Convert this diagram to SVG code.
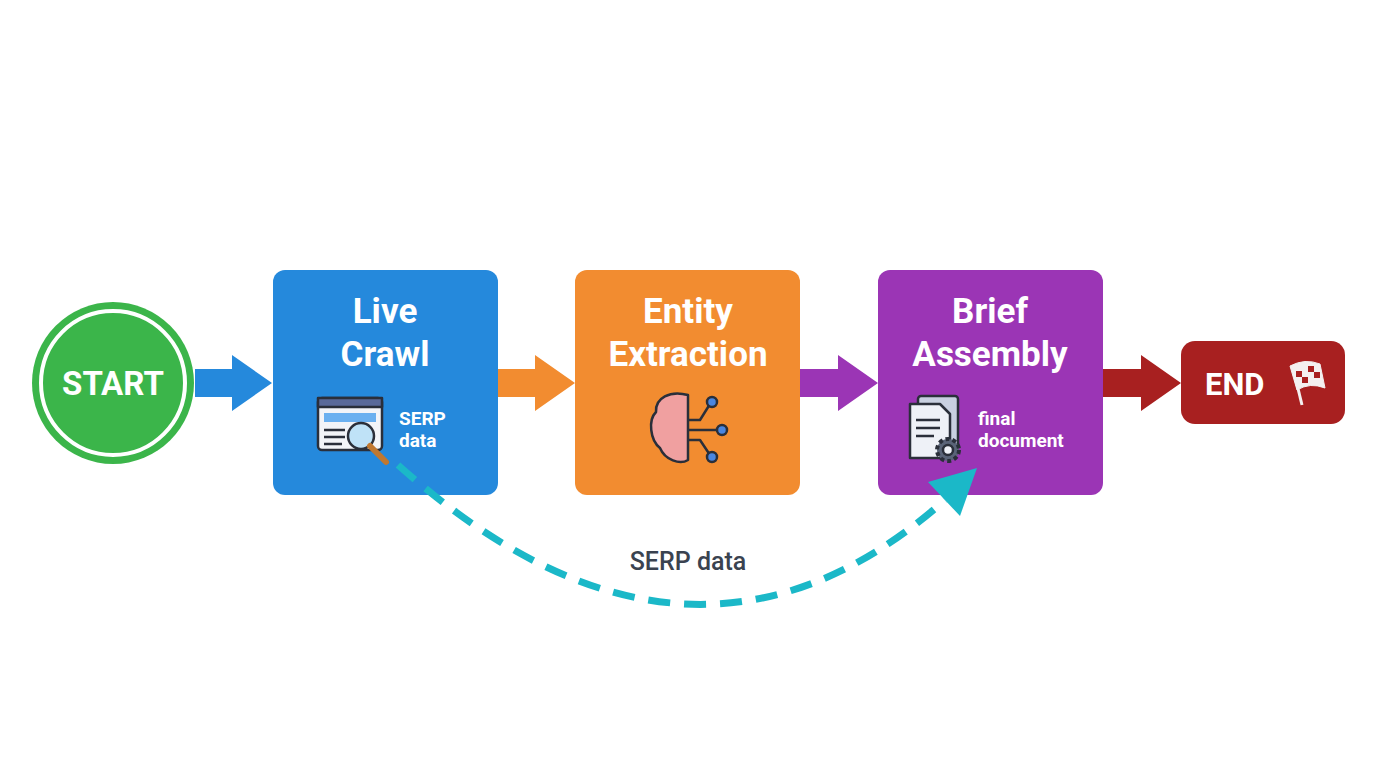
<svg xmlns="http://www.w3.org/2000/svg" width="1376" height="768" viewBox="0 0 1376 768">
<style>
.t{font-family:Roboto,"Liberation Sans",sans-serif;font-weight:bold;fill:#fff;text-anchor:middle}
.s{font-family:Roboto,"Liberation Sans",sans-serif;font-weight:bold;fill:#fff}
.ic{stroke:#2a2f3a;stroke-width:2.5;stroke-linejoin:round}
</style>
<rect width="1376" height="768" fill="#fff"/>
<g id="start">
<circle cx="113" cy="383" r="81" fill="#3bb54a"/>
<circle cx="113" cy="383" r="72" fill="none" stroke="#fff" stroke-width="4"/>
<text class="t" x="113" y="395" font-size="33">START</text>
</g>
<g id="live-crawl">
<rect x="273" y="270" width="225" height="225" rx="12" fill="#2589dc"/>
<text class="t" x="385" y="323" font-size="35">Live</text>
<text class="t" x="385" y="366" font-size="35">Crawl</text>
<rect class="ic" x="318" y="398" width="64" height="52" rx="4" fill="#f2f4f8"/>
<rect class="ic" x="318" y="398" width="64" height="9" fill="#5a6a9a"/>
<rect x="324" y="413" width="52" height="9" fill="#6ab0f0"/>
<path class="ic" d="M324,430 H345 M324,437 H345 M324,444 H342" fill="none"/>
<circle class="ic" cx="361" cy="436" r="13" fill="#bfe2f7"/>
<path d="M370,446 L386,462" stroke="#c07830" stroke-width="6" stroke-linecap="round"/>
<text class="s" x="399" y="425" font-size="19">SERP</text>
<text class="s" x="399" y="447" font-size="19">data</text>
</g>
<g id="entity-extraction">
<rect x="575" y="270" width="225" height="225" rx="12" fill="#f28c30"/>
<text class="t" x="688" y="323" font-size="35">Entity</text>
<text class="t" x="688" y="366" font-size="35">Extraction</text>
<path class="ic" d="M688,395 C670,390 655,398 656,412 C648,420 650,440 660,448 C665,460 680,465 688,460 z" fill="#f0a0a0"/>
<path class="ic" d="M688,420 H700 L710,404 M688,430 H718 M688,440 H700 L710,455" fill="none" stroke-width="2"/>
<circle cx="712" cy="402" r="5" fill="#4a86e0" class="ic" stroke-width="1.5"/>
<circle cx="722" cy="430" r="5" fill="#4a86e0" class="ic" stroke-width="1.5"/>
<circle cx="712" cy="457" r="5" fill="#4a86e0" class="ic" stroke-width="1.5"/>
</g>
<g id="brief-assembly">
<rect x="878" y="270" width="225" height="225" rx="12" fill="#9b35b5"/>
<text class="t" x="990" y="323" font-size="35">Brief</text>
<text class="t" x="990" y="366" font-size="35">Assembly</text>
<rect class="ic" x="918" y="396" width="40" height="52" rx="3" fill="#c8d0e0"/>
<path class="ic" d="M910,404 H940 L950,414 V458 H910 z" fill="#eef1f7"/>
<path class="ic" d="M916,420 H940 M916,428 H940 M916,436 H934" fill="none" stroke-width="2"/>
<circle cx="948" cy="450" r="11" fill="#5a6478" stroke="#2a2f3a" stroke-width="4" stroke-dasharray="4 3"/>
<circle cx="948" cy="450" r="5" fill="#eef1f7" class="ic" stroke-width="2"/>
<text class="s" x="978" y="425" font-size="19" font-weight="500">final</text>
<text class="s" x="978" y="447" font-size="19" font-weight="500">document</text>
</g>
<g id="end">
<rect x="1181" y="341" width="164" height="83" rx="14" fill="#a82020"/>
<text class="s" x="1205" y="395" font-size="31">END</text>
<path d="M1293,368 L1302,405" stroke="#f4f0f0" stroke-width="3"/>
<path d="M1290,366 Q1305,358 1320,364 L1325,388 Q1310,382 1297,390 z" fill="#f4f0f0" stroke="#f4f0f0"/>
<path d="M1296,371 h6v6h-6z M1308,366 h6v6h-6z M1302,377 h6v6h-6z M1314,372 h6v6h-6z" fill="#a82020"/>
</g>
<g id="connectors">
<path d="M195,369 H232 V355 L272,383 L232,411 V397 H195 z" fill="#2589dc"/>
<path d="M498,369 H535 V355 L575,383 L535,411 V397 H498 z" fill="#f28c30"/>
<path d="M800,369 H838 V355 L878,383 L838,411 V397 H800 z" fill="#9b35b5"/>
<path d="M1103,369 H1141 V355 L1181,383 L1141,411 V397 H1103 z" fill="#a82020"/>
<path d="M398,465 Q690,725 945,500" fill="none" stroke="#1bb8c8" stroke-width="7" stroke-dasharray="22 14"/>
<path d="M928,482 L977,468 L960,516 z" fill="#1bb8c8"/>
<text x="688" y="570" font-family="Roboto,'Liberation Sans',sans-serif" font-size="25" font-weight="500" fill="#3a4350" text-anchor="middle">SERP data</text>
</g>
</svg>
